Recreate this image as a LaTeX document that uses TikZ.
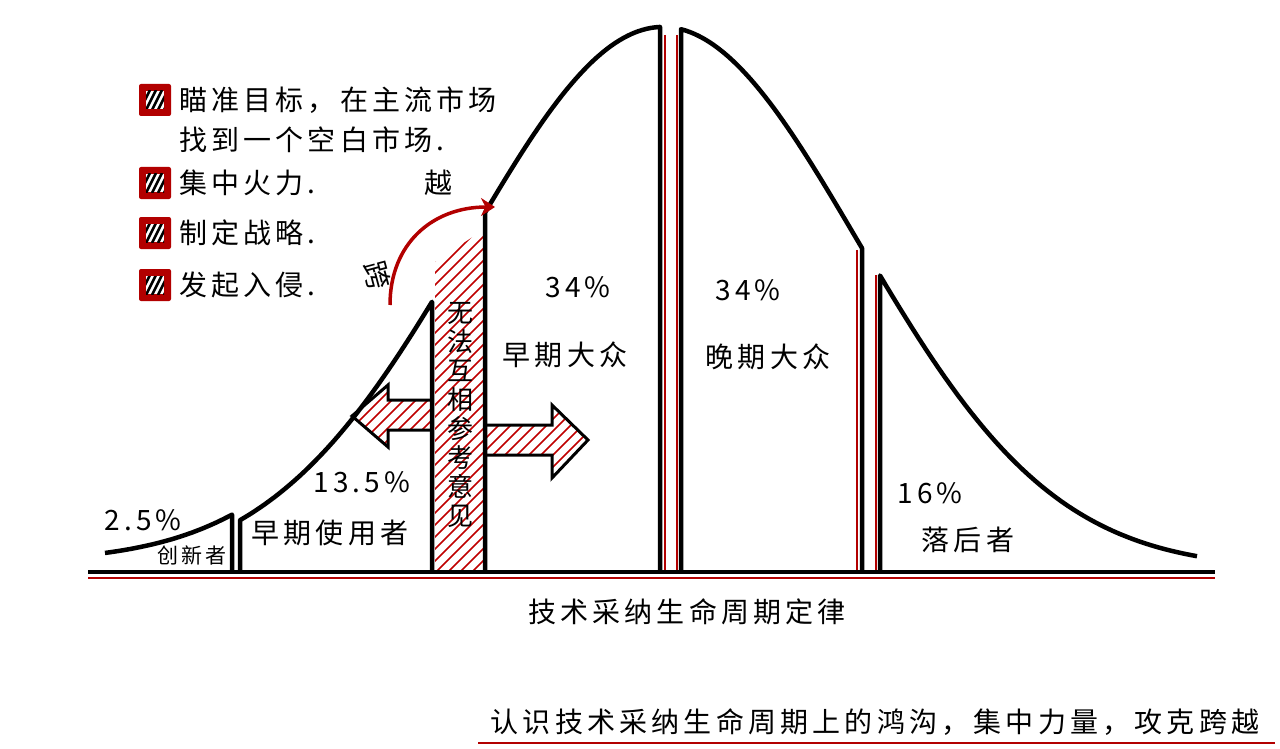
\documentclass[tikz,border=0pt]{standalone}
\usepackage{fontspec}
\setmainfont[LetterSpace=15]{Noto Sans CJK SC}
\usetikzlibrary{positioning, calc, arrows.meta}

% bell curve height at position x (pixels)
\newcommand{\bellf}[1]{572-545*exp(-0.5*((#1-663)/195)^2)}

\begin{document}
\begin{tikzpicture}[
    x=1pt, y=-1pt,
    curve/.style={line width=4.5pt, line join=round},
    redline/.style={line width=2pt, draw=red!70!black},
    label/.style={font=\fontsize{28}{30}\selectfont, inner sep=1pt},
    small/.style={font=\fontsize{21}{23}\selectfont, inner sep=1pt},
    arrow/.style={-{Stealth[length=14pt, width=18pt]}, line width=3.5pt, red!70!black}
]
    \useasboundingbox (0,0) rectangle (1280,749);

    % Hatched chasm and arrows
    \begin{scope}
        \clip (435,572) -- (435,262) -- (483,230) -- (483,572) -- cycle
              (432,400) -- (388,400) -- (388,385) -- (352,416) -- (388,447) -- (388,430) -- (432,430) -- cycle
              (485,425) -- (552,425) -- (552,405) -- (588,440) -- (552,478) -- (552,455) -- (485,455) -- cycle;
        \foreach \i in {0,12,...,700}
            \draw[red!75!black, line width=1.6pt] (-100+\i,580) -- (300+\i,180);
    \end{scope}
    \draw[line width=3pt, line join=miter]
        (432,400) -- (388,400) -- (388,385) -- (352,416) -- (388,447) -- (388,430) -- (432,430);
    \draw[line width=3pt, line join=miter]
        (485,425) -- (552,425) -- (552,405) -- (588,440) -- (552,478) -- (552,455) -- (485,455);

    % Bell curve segments
    \draw[curve] plot[domain=105:232, samples=30] (\x,{\bellf{\x}-10}) -- (232,572);
    \draw[curve] (240,572) -- plot[domain=240:432, samples=40] (\x,{\bellf{\x}}) -- (432,572);
    \draw[curve] (485,572) -- plot[domain=485:660, samples=40] (\x,{\bellf{\x}}) -- (660,572);
    \draw[curve] (681,572) -- plot[domain=681:862, samples=40] (\x,{\bellf{\x}}) -- (862,572);
    \draw[curve] (880,572) -- plot[domain=880:1197, samples=50] (\x,{\bellf{\x}-3});

    % Red accent lines
    \draw[redline] (665,35) -- (665,572);
    \draw[redline] (677,35) -- (677,572);
    \draw[redline] (857,250) -- (857,572);
    \draw[redline] (876,275) -- (876,572);

    % Baseline
    \draw[line width=4pt] (88,572) -- (1215,572);
    \draw[redline] (88,578) -- (1215,578);

    % Crossing arrow
    \coordinate (crossstart) at (390,305);
    \coordinate (crossend) at (495,207);
    \draw[arrow] (crossstart) to[out=90, in=180, looseness=1.1] (crossend);
    \node[label, rotate=-75] (kua) at (377,275) {跨};
    \node[label] (yue) at (438,183) {越};

    % Legend
    \foreach \y/\name in {100/la, 183/lb, 233/lc, 285/ld} {
        \node[fill=red!70!black, rounded corners=2pt, minimum size=32pt, inner sep=0pt] (\name) at (155,\y) {};
        \begin{scope}
            \clip (146,\y-9) rectangle (164,\y+9);
            \fill[white] (146,\y-9) rectangle (164,\y+9);
            \foreach \k in {0,6,12,18,24}
                \draw[line width=2.5pt] (140+\k,\y+10) -- (150+\k,\y-10);
        \end{scope}
    }
    \node[label, anchor=west] (ta) at (178,100) {瞄准目标，在主流市场};
    \node[label, anchor=west] (tb) at (178,140) {找到一个空白市场.};
    \node[label, anchor=west] (tc) at (178,183) {集中火力.};
    \node[label, anchor=west] (td) at (178,233) {制定战略.};
    \node[label, anchor=west] (te) at (178,285) {发起入侵.};

    % Segment labels
    \node[label] (p1) at (143,520) {2.5\%};
    \node[small] (n1) at (192,555) {创新者};
    \node[label] (p2) at (362,482) {13.5\%};
    \node[label] (n2) at (330,533) {早期使用者};
    \node[label] (p3) at (578,287) {34\%};
    \node[label] (n3) at (565,355) {早期大众};
    \node[label] (p4) at (748,290) {34\%};
    \node[label] (n4) at (768,357) {晚期大众};
    \node[label] (p5) at (930,493) {16\%};
    \node[label] (n5) at (968,540) {落后者};
    \node[align=center, font=\fontsize{26}{29}\selectfont, inner sep=1pt] (chasm) at (460,415)
        {无\\法\\互\\相\\参\\考\\意\\见};

    % Titles
    \node[label] (title) at (687,612) {技术采纳生命周期定律};
    \node[label] (motto) at (875,722) {认识技术采纳生命周期上的鸿沟，集中力量，攻克跨越};
    \draw[redline, line width=2.5pt] (478,743) -- (1275,743);
\end{tikzpicture}
\end{document}
